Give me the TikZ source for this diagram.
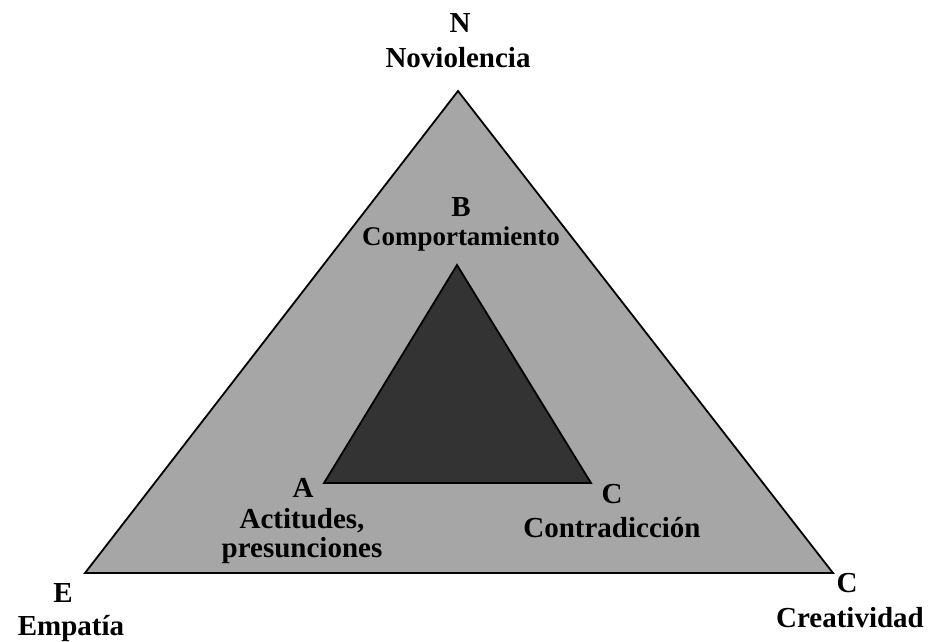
\documentclass[tikz,border=0pt]{standalone}
\usepackage{fontspec}
\setmainfont{Liberation Serif}
\usepackage{tikz}
\usetikzlibrary{positioning}
\definecolor{outergray}{RGB}{166,166,166}
\definecolor{innergray}{RGB}{51,51,51}
\tikzset{lbl/.style={draw=none,inner sep=0pt,anchor=base,font=\fontsize{29}{29}\selectfont\bfseries}}
\begin{document}
\begin{tikzpicture}[x=1pt,y=-1pt]
\useasboundingbox (0,0) rectangle (929,641);
\coordinate (top) at (458,91);
\coordinate (left) at (85,573);
\coordinate (right) at (833,573);
\coordinate (itop) at (457,265);
\coordinate (ileft) at (324,483);
\coordinate (iright) at (591,483);
\draw [line width=1.8pt,fill=outergray,line join=miter] (top)--(left)--(right)--cycle;
\draw [line width=1.8pt,fill=innergray,line join=miter] (itop)--(ileft)--(iright)--cycle;
\node (n) [lbl] at (460,32) {N};
\node (nov) [lbl] at (458,67) {Noviolencia};
\node (b) [lbl] at (461,216) {B};
\node (comp) [lbl,font=\fontsize{27}{27}\selectfont\bfseries] at (461,245) {Comportamiento};
\node (a) [lbl] at (303,497) {A};
\node (act) [lbl] at (302,528) {Actitudes,};
\node (pres) [lbl] at (302,557) {presunciones};
\node (c) [lbl] at (612,503) {C};
\node (contr) [lbl] at (612,537) {Contradicción};
\node (e) [lbl] at (63,602) {E};
\node (emp) [lbl] at (71,635) {Empatía};
\node (cr) [lbl] at (847,592) {C};
\node (crea) [lbl] at (850,627) {Creatividad};
\end{tikzpicture}
\end{document}
